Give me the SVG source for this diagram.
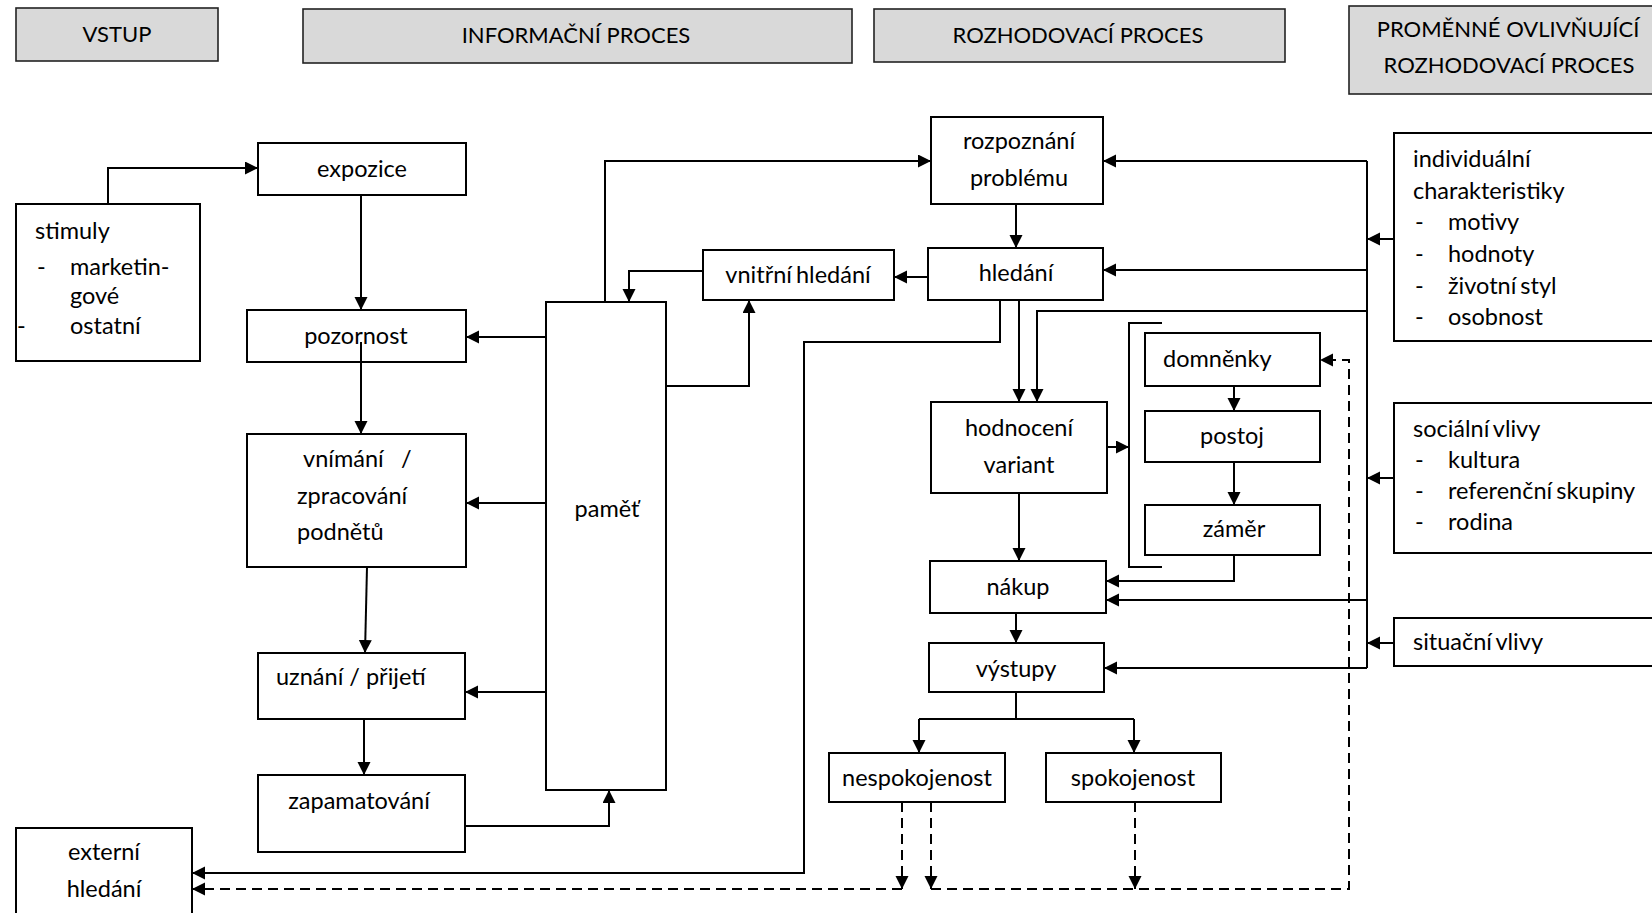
<svg xmlns="http://www.w3.org/2000/svg" width="1652" height="913" viewBox="0 0 1652 913">
<defs>
<marker id="ah" markerUnits="userSpaceOnUse" markerWidth="14" markerHeight="14" refX="13" refY="6.5" orient="auto">
<path d="M0,0 L13,6.5 L0,13 z" fill="#000"/>
</marker>
<style>
.hdr rect{fill:#d9d9d9;stroke:#222;stroke-width:1.6}
.node rect{fill:#fff;stroke:#000;stroke-width:2}
text{font-family:Lato,"Liberation Sans",sans-serif;font-size:23.5px;fill:#000}
.h{font-size:22px}
.c{text-anchor:middle}
.t{word-spacing:-2px}
.con path{fill:none;stroke:#000;stroke-width:2}
.con path.a{marker-end:url(#ah)}
.con path.d{stroke-dasharray:10 6}
</style>
</defs>
<rect width="1652" height="913" fill="#fff"/>

<g id="h-vstup" class="hdr"><rect x="16" y="8" width="202" height="53"/><text class="h c" x="117" y="42">VSTUP</text></g>
<g id="h-info" class="hdr"><rect x="303" y="9" width="549" height="54"/><text class="h c" x="576" y="43">INFORMAČNÍ PROCES</text></g>
<g id="h-rozh" class="hdr"><rect x="874" y="9" width="411" height="53"/><text class="h c" x="1078" y="43">ROZHODOVACÍ PROCES</text></g>
<g id="h-prom" class="hdr"><rect x="1349" y="6" width="320" height="88"/><text class="h c" x="1508" y="37">PROMĚNNÉ OVLIVŇUJÍCÍ</text><text class="h c" x="1509" y="73">ROZHODOVACÍ PROCES</text></g>

<g id="stimuly" class="node"><rect x="16" y="204" width="184" height="157"/>
<text x="35" y="239">stimuly</text><text x="37" y="275">-</text><text x="70" y="275">marketin-</text><text x="70" y="304">gové</text><text x="17" y="334">-</text><text x="70" y="334">ostatní</text></g>
<g id="expozice" class="node"><rect x="258" y="143" width="208" height="52"/><text class="c" x="362" y="177">expozice</text></g>
<g id="pozornost" class="node"><rect x="247" y="310" width="219" height="52"/><text class="c" x="356" y="344">pozornost</text></g>
<g id="vnimani" class="node"><rect x="247" y="434" width="219" height="133"/><text x="303" y="467">vnímání</text><text x="401" y="467">/</text><text x="297" y="504">zpracování</text><text x="297" y="540">podnětů</text></g>
<g id="uznani" class="node"><rect x="258" y="653" width="207" height="66"/><text x="276" y="685">uznání / přijetí</text></g>
<g id="zapamatovani" class="node"><rect x="258" y="775" width="207" height="77"/><text class="c" x="359" y="809">zapamatování</text></g>
<g id="pamet" class="node"><rect x="546" y="302" width="120" height="488"/><text class="c" x="607" y="517">paměť</text></g>
<g id="vnitrni" class="node"><rect x="703" y="250" width="191" height="50"/><text class="c t" x="798" y="283">vnitřní hledání</text></g>
<g id="rozpoznani" class="node"><rect x="931" y="117" width="172" height="87"/><text class="c" x="1019" y="149">rozpoznání</text><text class="c" x="1019" y="186">problému</text></g>
<g id="hledani" class="node"><rect x="928" y="248" width="175" height="52"/><text class="c" x="1016" y="281">hledání</text></g>
<g id="hodnoceni" class="node"><rect x="931" y="402" width="176" height="91"/><text class="c" x="1019" y="436">hodnocení</text><text class="c" x="1019" y="473">variant</text></g>
<g id="skupina" class="node"><path d="M1162,323 H1129 V567 H1162" fill="none" stroke="#000" stroke-width="2"/></g>
<g id="domnenky" class="node"><rect x="1145" y="333" width="175" height="53"/><text x="1163" y="367">domněnky</text></g>
<g id="postoj" class="node"><rect x="1145" y="411" width="175" height="51"/><text class="c" x="1232" y="444">postoj</text></g>
<g id="zamer" class="node"><rect x="1145" y="505" width="175" height="50"/><text class="c" x="1234" y="537">záměr</text></g>
<g id="nakup" class="node"><rect x="930" y="561" width="176" height="52"/><text class="c" x="1018" y="595">nákup</text></g>
<g id="vystupy" class="node"><rect x="929" y="643" width="175" height="49"/><text class="c" x="1016" y="677">výstupy</text></g>
<g id="nespokojenost" class="node"><rect x="829" y="753" width="176" height="49"/><text class="c" x="917" y="786">nespokojenost</text></g>
<g id="spokojenost" class="node"><rect x="1046" y="753" width="175" height="49"/><text class="c" x="1133" y="786">spokojenost</text></g>
<g id="externi" class="node"><rect x="16" y="828" width="176" height="100"/><text class="c" x="104" y="860">externí</text><text class="c" x="104" y="897">hledání</text></g>
<g id="individualni" class="node"><rect x="1394" y="133" width="280" height="208"/>
<text x="1413" y="167">individuální</text><text x="1413" y="199">charakteristiky</text>
<text x="1415" y="230">-</text><text x="1448" y="230">motivy</text>
<text x="1415" y="262">-</text><text x="1448" y="262">hodnoty</text>
<text x="1415" y="294">-</text><text class="t" x="1448" y="294">životní styl</text>
<text x="1415" y="325">-</text><text x="1448" y="325">osobnost</text></g>
<g id="socialni" class="node"><rect x="1394" y="403" width="280" height="150"/>
<text class="t" x="1413" y="437">sociální vlivy</text>
<text x="1415" y="468">-</text><text x="1448" y="468">kultura</text>
<text x="1415" y="499">-</text><text class="t" x="1448" y="499">referenční skupiny</text>
<text x="1415" y="530">-</text><text x="1448" y="530">rodina</text></g>
<g id="situacni" class="node"><rect x="1394" y="618" width="280" height="48"/><text class="t" x="1413" y="650">situační vlivy</text></g>

<g id="connectors" class="con">
<path class="a" d="M108,204 V168 H258"/>
<path class="a" d="M361,195 V310"/>
<path class="a" d="M361,342 V434"/>
<path class="a" d="M367,567 L365,653"/>
<path class="a" d="M364,719 V775"/>
<path class="a" d="M465,826 H609 V790"/>
<path class="a" d="M546,337 H466"/>
<path class="a" d="M546,503 H466"/>
<path class="a" d="M546,692 H465"/>
<path class="a" d="M605,302 V161 H931"/>
<path class="a" d="M1016,204 V248"/>
<path class="a" d="M928,277 H894"/>
<path class="a" d="M703,271 H629 V302"/>
<path class="a" d="M666,386 H749 V300"/>
<path class="a" d="M1000,300 V342 H804 V873 H192"/>
<path class="a" d="M1019,300 V402"/>
<path class="a" d="M1367,311 H1037 V402"/>
<path class="a" d="M1107,447 H1129"/>
<path class="a" d="M1234,386 V411"/>
<path class="a" d="M1234,462 V505"/>
<path class="a" d="M1234,555 V581 H1106"/>
<path class="a" d="M1019,493 V561"/>
<path class="a" d="M1016,613 V643"/>
<path d="M1016,692 V719 M919,719 H1134"/>
<path class="a" d="M919,719 V753"/>
<path class="a" d="M1134,719 V753"/>
<path d="M1367,161 V668"/>
<path class="a" d="M1367,161 H1103"/>
<path class="a" d="M1367,270 H1103"/>
<path class="a" d="M1367,600 H1106"/>
<path class="a" d="M1367,668 H1104"/>
<path class="a" d="M1394,239 H1367"/>
<path class="a" d="M1394,478 H1367"/>
<path class="a" d="M1394,643 H1367"/>
<path class="a d" d="M902,802 V889"/>
<path class="a d" d="M931,802 V889"/>
<path class="a d" d="M1135,802 V889"/>
<path class="a d" d="M931,889 H1349 V360 H1320"/>
<path class="a d" d="M902,889 H192"/>
</g>
</svg>
